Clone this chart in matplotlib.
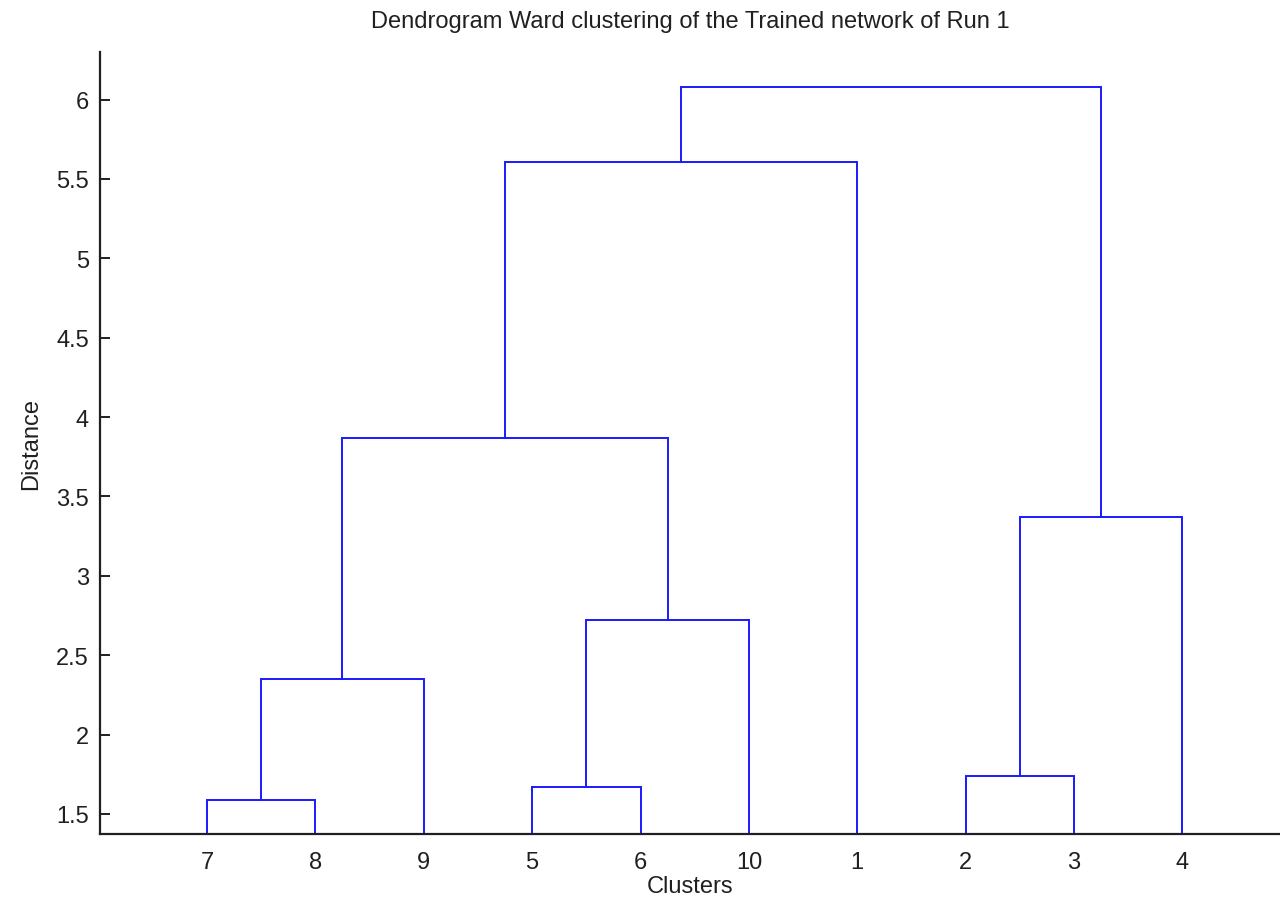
import numpy as np
import matplotlib.pyplot as plt

# leaf order as it appears on the x axis
leaf_labels = ['7', '8', '9', '5', '6', '10', '1', '2', '3', '4']

# merges: (left node, right node, height); new clusters get ids 11, 12, ...
merge_left = ['7', '5', '2', 'c11', 'c12', 'c13', 'c14', 'c17', 'c18']
merge_right = ['8', '6', '3', '9', '10', '4', 'c15', '1', 'c16']
merge_height = [1.59, 1.67, 1.74, 2.35, 2.72, 3.37, 3.87, 5.61, 6.08]

plt.rcParams['font.family'] = ['Liberation Sans', 'DejaVu Sans']

fig = plt.figure(figsize=(12.8, 9.03), dpi=100)
ax = fig.add_axes([100 / 1280, 68 / 903, 1180 / 1280, 782 / 903])

# position and height of every node
xpos = {lab: i + 1 for i, lab in enumerate(leaf_labels)}
ypos = {lab: 0.0 for lab in leaf_labels}

for k, (a, b, h) in enumerate(zip(merge_left, merge_right, merge_height)):
    xa, xb = xpos[a], xpos[b]
    ax.plot([xa, xa, xb, xb], [ypos[a], h, h, ypos[b]], color='#1a1aff', lw=1.4,
            solid_joinstyle='miter')
    node = 'c%d' % (11 + k)
    xpos[node] = (xa + xb) / 2
    ypos[node] = h

ax.set_xlim(0.013, 10.9)
ax.set_ylim(1.374, 6.30)
ax.set_xticks(np.arange(1, len(leaf_labels) + 1))
ax.set_xticklabels(leaf_labels)
ax.set_yticks([1.5, 2, 2.5, 3, 3.5, 4, 4.5, 5, 5.5, 6])
ax.set_yticklabels(['1.5', '2', '2.5', '3', '3.5', '4', '4.5', '5', '5.5', '6'])

for side in ['top', 'right']:
    ax.spines[side].set_visible(False)
for side in ['left', 'bottom']:
    ax.spines[side].set_linewidth(1.6)
    ax.spines[side].set_color('#202020')

ax.tick_params(axis='y', direction='in', length=7, width=1.4, labelsize=17,
               pad=8, colors='#202020')
ax.tick_params(axis='x', length=0, labelsize=17, pad=12, colors='#202020')

ax.set_title('Dendrogram Ward clustering of the Trained network of Run 1',
             fontsize=17, pad=18, color='#202020')
ax.set_xlabel('Clusters', fontsize=17, labelpad=2, color='#202020')
ax.set_ylabel('Distance', fontsize=17, labelpad=10, color='#202020')

fig.savefig('out.png', dpi=100)
